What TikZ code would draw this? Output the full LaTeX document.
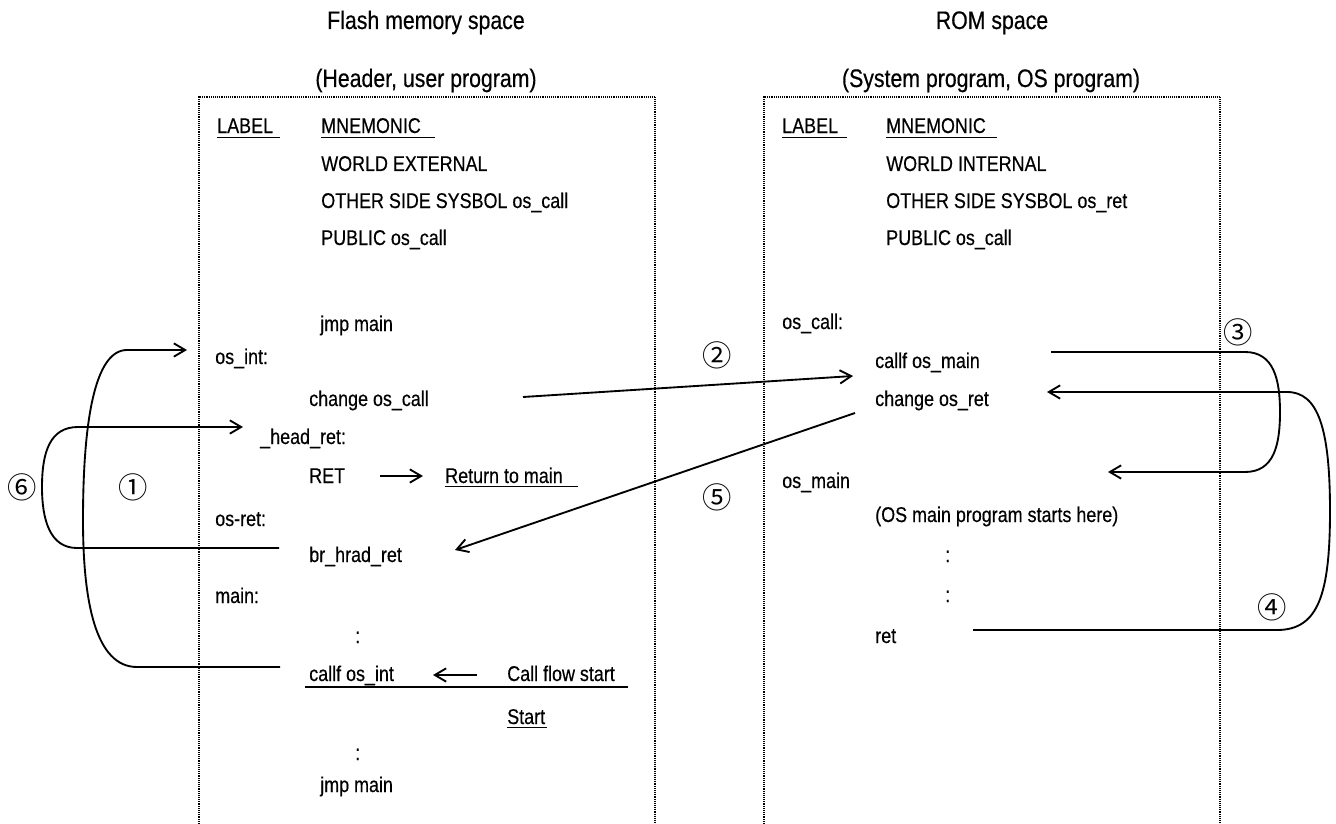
\documentclass[tikz,border=0pt]{standalone}
\usepackage{fontspec}
\setmainfont{Liberation Sans}[FakeStretch=0.84,FakeBold=0.4]
\newfontfamily\symf{Noto Sans CJK JP}
\usetikzlibrary{arrows.meta}
\begin{document}
\begin{tikzpicture}[x=0.75pt,y=-0.75pt,
  txt/.style={inner sep=0pt, anchor=base west, font=\fontsize{16}{19}\selectfont},
  ttl/.style={inner sep=0pt, anchor=base, font=\fontsize{19}{22}\selectfont},
  num/.style={inner sep=0pt, font=\symf\fontsize{22}{24}\selectfont},
  frame/.style={line width=1pt, dash pattern=on 0.7pt off 0.7pt},
  ul/.style={line width=1.1pt},
  ln/.style={line width=1.4pt},
  arr/.style={line width=1.4pt, -{Straight Barb[length=8.5pt,width=10pt]}}]
\useasboundingbox (0,0) rectangle (1336,824);

% titles
\node[ttl] (t1) at (426,29) {Flash memory space};
\node[ttl] (t2) at (426,87) {(Header, user program)};
\node[ttl] (t3) at (992,29) {ROM space};
\node[ttl] (t4) at (991,87) {(System program, OS program)};

% frames
\draw[frame] (199,824) -- (199,97) -- (655,97) -- (655,824);
\draw[frame] (764,824) -- (764,97) -- (1220,97) -- (1220,824);

% left column
\node[txt] (lblL) at (217,133) {LABEL};
\node[txt] (mnL) at (321,133) {MNEMONIC};
\node[txt] (weL) at (321,171) {WORLD EXTERNAL};
\node[txt] (osL) at (321,208) {OTHER SIDE SYSBOL os\_call};
\node[txt] (pubL) at (321,245) {PUBLIC os\_call};
\node[txt] (jmp1) at (320,331) {jmp main};
\node[txt] (osint) at (215,364) {os\_int:};
\node[txt] (chgL) at (309,406) {change os\_call};
\node[txt] (head) at (260,444) {\_head\_ret:};
\node[txt] (ret1) at (309,483) {RET};
\node[txt] (rtm) at (445,483) {Return to main};
\node[txt] (osret) at (215,526) {os-ret:};
\node[txt] (brh) at (309,562) {br\_hrad\_ret};
\node[txt] (mainl) at (215,603) {main:};
\node[txt] (dot1) at (355,643) {:};
\node[txt] (callf) at (309,681) {callf os\_int};
\node[txt] (cfs) at (507,681) {Call flow start};
\node[txt] (start) at (507,724) {Start};
\node[txt] (dot2) at (355,760) {:};
\node[txt] (jmp2) at (320,792) {jmp main};

% right column
\node[txt] (lblR) at (782,133) {LABEL};
\node[txt] (mnR) at (886,133) {MNEMONIC};
\node[txt] (wiR) at (886,171) {WORLD INTERNAL};
\node[txt] (osR) at (886,208) {OTHER SIDE SYSBOL os\_ret};
\node[txt] (pubR) at (886,245) {PUBLIC os\_call};
\node[txt] (oscall) at (782,329) {os\_call:};
\node[txt] (callR) at (875,368) {callf os\_main};
\node[txt] (chgR) at (875,406) {change os\_ret};
\node[txt] (osmain) at (782,488) {os\_main};
\node[txt] (osmp) at (875,522) {(OS main program starts here)};
\node[txt] (dot3) at (945,562) {:};
\node[txt] (dot4) at (945,602) {:};
\node[txt] (retR) at (875,643) {ret};

% underlines
\draw[ul] (lblL.base west) ++(0,4.5) -- ++(63,0);
\draw[ul] (mnL.base west) ++(0,4.5) -- ++(114,0);
\draw[ul] (lblR.base west) ++(0,4.5) -- ++(65,0);
\draw[ul] (mnR.base west) ++(0,4.5) -- ++(111,0);
\draw[ul] (rtm.base west) ++(0,3.5) -- ++(133,0);
\draw[ul] (callf.base west) ++(-4,6) -- ++(323,0);
\draw[ul] (start.base west) ++(0,3.5) -- ++(40,0);

% circled numbers
\node[num] (n1) at (133,487) {①};
\node[num] (n2) at (717,355) {②};
\node[num] (n3) at (1238,332) {③};
\node[num] (n4) at (1272,607) {④};
\node[num] (n5) at (717,497) {⑤};
\node[num] (n6) at (22,487) {⑥};

% connector end points
\coordinate (c1a) at (280,667);
\coordinate (c1b) at (187,350);
\coordinate (c2a) at (523,397);
\coordinate (c2b) at (853,376);
\coordinate (c3a) at (1051,352);
\coordinate (c3b) at (1108,472);
\coordinate (c4a) at (973,630);
\coordinate (c4b) at (1047,392);
\coordinate (c5a) at (855,413);
\coordinate (c5b) at (455,550);
\coordinate (c6a) at (279,548);
\coordinate (c6b) at (243,427);
\coordinate (ra) at (380,476);
\coordinate (rb) at (423,476);
\coordinate (ca) at (477,675);
\coordinate (cb) at (433,675);

% connectors
\draw[arr] (c1a) -- (137,667) .. controls (95,667) and (83,600) .. (83,520)
  .. controls (83,420) and (95,350) .. (127,350) -- (c1b);
\draw[arr] (c6a) -- (77,548) .. controls (50,548) and (42,520) .. (42,487)
  .. controls (42,452) and (50,427) .. (78,427) -- (c6b);
\draw[arr] (c2a) -- (c2b);
\draw[arr] (c5a) -- (c5b);
\draw[arr] (c3a) -- (1245,352) .. controls (1274,352) and (1280,380) .. (1280,412)
  .. controls (1280,445) and (1274,472) .. (1245,472) -- (c3b);
\draw[arr] (c4a) -- (1277,630) .. controls (1318,630) and (1330,595) .. (1330,511)
  .. controls (1330,428) and (1318,392) .. (1287,392) -- (c4b);
\draw[arr] (ra) -- (rb);
\draw[arr] (ca) -- (cb);
\end{tikzpicture}
\end{document}
